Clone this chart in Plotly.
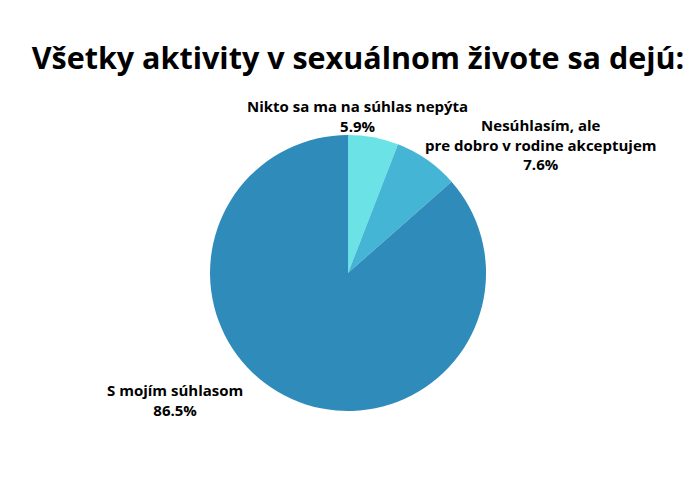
import plotly.graph_objects as go

labels = [
    "Nikto sa ma na súhlas nepýta",
    "Nesúhlasím, ale<br>pre dobro v rodine akceptujem",
    "S mojím súhlasom",
]
values = [5.9, 7.6, 86.5]
colors = ["#6be3e6", "#45b5d6", "#2e8bba"]

# where each outside label sits (paper coords)
label_x = [0.499, 0.762, 0.239]
label_y = [0.784, 0.728, 0.216]

fig = go.Figure(go.Pie(
    labels=labels,
    values=values,
    sort=False,
    direction="clockwise",
    rotation=0,
    marker=dict(colors=colors),
    textinfo="none",
    hoverinfo="label+percent",
    showlegend=False,
    domain=dict(x=[0.2886, 0.6829], y=[0.194, 0.746]),
    automargin=False,
))

total = sum(values)
for lab, v, x, y in zip(labels, values, label_x, label_y):
    fig.add_annotation(
        text=f"<b>{lab}<br>{v / total * 100:.1f}%</b>",
        x=x, y=y, xref="paper", yref="paper",
        xanchor="center", yanchor="middle",
        showarrow=False, align="center",
        font=dict(family="Open Sans", size=15, color="black"),
    )

fig.update_layout(
    title=dict(
        text="<b>Všetky aktivity v sexuálnom živote sa dejú:</b>",
        x=0.5,
        xanchor="center",
        y=0.9,
        yanchor="middle",
        font=dict(family="Open Sans", size=30.5, color="black"),
    ),
    font=dict(family="Open Sans"),
    paper_bgcolor="white",
    margin=dict(l=0, r=0, t=0, b=0),
    width=700,
    height=500,
)

fig.write_html("out.html")
